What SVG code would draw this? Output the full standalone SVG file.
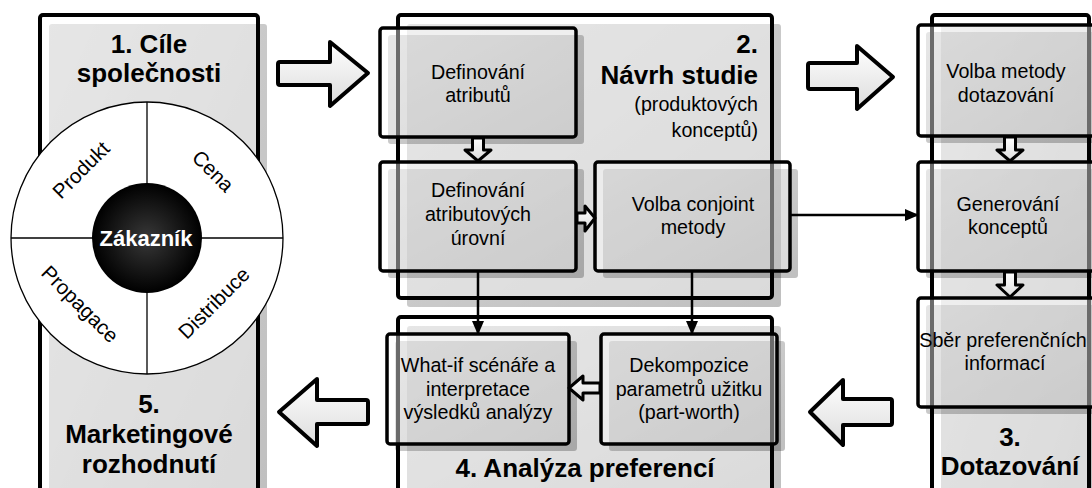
<svg xmlns="http://www.w3.org/2000/svg" width="1092" height="488" viewBox="0 0 1092 488">
  <defs>
    <linearGradient id="arrowFill" x1="0" y1="0" x2="0" y2="1">
      <stop offset="0" stop-color="#ffffff"/>
      <stop offset="1" stop-color="#dcdcdc"/>
    </linearGradient>
    <linearGradient id="shadowFill" x1="0" y1="0" x2="1" y2="1">
      <stop offset="0" stop-color="#000" stop-opacity="0.17"/>
      <stop offset="1" stop-color="#000" stop-opacity="0.25"/>
    </linearGradient>
    <radialGradient id="hub" cx="0.5" cy="0.5" r="0.5">
      <stop offset="0" stop-color="#383838"/>
      <stop offset="1" stop-color="#000000"/>
    </radialGradient>
    <marker id="tip" viewBox="0 0 14 12" refX="13" refY="6" markerWidth="14" markerHeight="12" markerUnits="userSpaceOnUse" orient="auto">
      <path d="M0,0 L14,6 L0,12 z" fill="#000"/>
    </marker>
  </defs>
  <style>
    .shadow { fill: url(#shadowFill); }
    .panel { fill: #ffffff; fill-opacity: 0.42; stroke: #000; stroke-width: 4; }
    .box { fill: #ffffff; fill-opacity: 0.42; stroke: #000; stroke-width: 3.5; }
    .big-arrow { fill: url(#arrowFill); stroke: #000; stroke-width: 4; stroke-linejoin: round; }
    .small-arrow { fill: url(#arrowFill); stroke: #000; stroke-width: 3; stroke-linejoin: round; }
    .conn { fill: none; stroke: #000; stroke-width: 2.5; }
    .t { font-family: "Liberation Sans", Arial, sans-serif; font-size: 19.7px; fill: #000; text-anchor: middle; }
    .seg { font-size: 20.5px; }
    .title { font-family: "Liberation Sans", Arial, sans-serif; font-size: 26px; font-weight: bold; fill: #000; text-anchor: middle; }
    .r { text-anchor: end; }
    .wheel-line { stroke: #000; stroke-width: 1.3; fill: none; }
  </style>

  <!-- 1 / 5: company goals and marketing decision -->
  <g id="panel-goals">
    <rect class="shadow" x="49" y="24" width="218" height="490" rx="3"/>
    <rect class="panel" x="40" y="15" width="218" height="490" rx="3"/>
    <text class="title"><tspan x="149" y="53">1. Cíle</tspan><tspan x="149" y="82">společnosti</tspan></text>
    <text class="title"><tspan x="149" y="413">5.</tspan><tspan x="149" y="443">Marketingové</tspan><tspan x="149" y="473">rozhodnutí</tspan></text>
  </g>

  <!-- 2: study design -->
  <g id="panel-design">
    <rect class="shadow" x="407" y="24" width="374" height="283" rx="3"/>
    <rect class="panel" x="398" y="15" width="374" height="283" rx="3"/>
    <text class="title r"><tspan x="758" y="53">2.</tspan><tspan x="758" y="84">Návrh studie</tspan></text>
    <text class="t r"><tspan x="758" y="111">(produktových</tspan><tspan x="758" y="137">konceptů)</tspan></text>
  </g>

  <!-- 4: preference analysis -->
  <g id="panel-analysis">
    <rect class="shadow" x="407" y="326" width="374" height="190" rx="3"/>
    <rect class="panel" x="398" y="317" width="374" height="190" rx="3"/>
    <text class="title" x="585" y="477">4. Analýza preferencí</text>
  </g>

  <!-- 3: survey -->
  <g id="panel-survey">
    <rect class="shadow" x="941" y="24" width="157" height="490" rx="3"/>
    <rect class="panel" x="932" y="15" width="157" height="490" rx="3"/>
    <text class="title"><tspan x="1010" y="446">3.</tspan><tspan x="1010" y="475">Dotazování</tspan></text>
  </g>

  <!-- marketing mix wheel around the customer -->
  <g id="wheel">
    <circle cx="147" cy="238" r="136" fill="#fff" stroke="#000" stroke-width="1.3"/>
    <line class="wheel-line" x1="147" y1="102" x2="147" y2="374"/>
    <line class="wheel-line" x1="11" y1="238" x2="283" y2="238"/>
    <text class="t seg" transform="translate(81,170) rotate(-45)" y="7">Produkt</text>
    <text class="t seg" transform="translate(213,171) rotate(45)" y="7">Cena</text>
    <text class="t seg" transform="translate(80,304) rotate(45)" y="7">Propagace</text>
    <text class="t seg" transform="translate(214,303) rotate(-45)" y="7">Distribuce</text>
    <circle cx="147" cy="238" r="55" fill="url(#hub)"/>
    <text class="title" x="146" y="246" style="fill:#fff;font-size:22px">Zákazník</text>
  </g>

  <g id="box-attributes">
    <rect class="shadow" x="388" y="35" width="196" height="109" rx="3"/>
    <rect class="box" x="380" y="28" width="196" height="109" rx="3"/>
    <text class="t"><tspan x="478" y="79">Definování</tspan><tspan x="478" y="102">atributů</tspan></text>
  </g>

  <g id="box-levels">
    <rect class="shadow" x="388" y="169" width="196" height="109" rx="3"/>
    <rect class="box" x="380" y="162" width="196" height="109" rx="3"/>
    <text class="t"><tspan x="478" y="197">Definování</tspan><tspan x="478" y="221">atributových</tspan><tspan x="478" y="245">úrovní</tspan></text>
  </g>

  <g id="box-method">
    <rect class="shadow" x="603" y="169" width="195" height="109" rx="3"/>
    <rect class="box" x="595" y="162" width="195" height="109" rx="3"/>
    <text class="t"><tspan x="693" y="211">Volba conjoint</tspan><tspan x="693" y="234">metody</tspan></text>
  </g>

  <g id="box-whatif">
    <rect class="shadow" x="395" y="341" width="182" height="110" rx="3"/>
    <rect class="box" x="387" y="334" width="182" height="110" rx="3"/>
    <text class="t"><tspan x="478" y="372">What-if scénáře a</tspan><tspan x="478" y="396">interpretace</tspan><tspan x="478" y="419">výsledků analýzy</tspan></text>
  </g>

  <g id="box-partworth">
    <rect class="shadow" x="609" y="341" width="176" height="110" rx="3"/>
    <rect class="box" x="601" y="334" width="176" height="110" rx="3"/>
    <text class="t"><tspan x="689" y="372">Dekompozice</tspan><tspan x="689" y="396">parametrů užitku</tspan><tspan x="689" y="419">(part-worth)</tspan></text>
  </g>

  <g id="box-survey-method">
    <rect class="shadow" x="926" y="32" width="186" height="111" rx="3"/>
    <rect class="box" x="918" y="25" width="186" height="111" rx="3"/>
    <text class="t"><tspan x="1006" y="78">Volba metody</tspan><tspan x="1006" y="102">dotazování</tspan></text>
  </g>

  <g id="box-concepts">
    <rect class="shadow" x="926" y="169" width="186" height="109" rx="3"/>
    <rect class="box" x="918" y="162" width="186" height="109" rx="3"/>
    <text class="t"><tspan x="1008" y="211">Generování</tspan><tspan x="1008" y="234">konceptů</tspan></text>
  </g>

  <g id="box-collection">
    <rect class="shadow" x="926" y="305" width="186" height="109" rx="3"/>
    <rect class="box" x="918" y="298" width="186" height="109" rx="3"/>
    <text class="t"><tspan x="1003" y="347">Sběr preferenčních</tspan><tspan x="1005" y="370">informací</tspan></text>
  </g>

  <!-- connectors: hollow block arrows between stages and plain arrows between steps -->
  <g id="connectors">
    <path class="big-arrow" d="M280,62 L330,62 L330,42 L368,73 L330,106 L330,85 L280,85 Q278,85 278,83 L278,64 Q278,62 280,62 z"/>
    <path class="big-arrow" d="M810,63 L857,63 L857,46 L893,77 L857,109 L857,89 L810,89 Q808,89 808,87 L808,65 Q808,63 810,63 z"/>
    <path class="big-arrow" d="M890,399 L843,399 L843,380 L810,412 L843,445 L843,425 L890,425 Q892,425 892,423 L892,401 Q892,399 890,399 z"/>
    <path class="big-arrow" d="M366,400 L317,400 L317,379 L279,412 L317,446 L317,424 L366,424 Q368,424 368,422 L368,402 Q368,400 366,400 z"/>

    <path class="small-arrow" d="M472.5,138 L483.5,138 L483.5,150 L491,150 L478,161 L465,150 L472.5,150 z"/>
    <path class="small-arrow" d="M1004.5,137 L1015.5,137 L1015.5,150 L1023,150 L1010,161 L997,150 L1004.5,150 z"/>
    <path class="small-arrow" d="M1004.5,272 L1015.5,272 L1015.5,285 L1023,285 L1010,297 L997,285 L1004.5,285 z"/>
    <path class="small-arrow" d="M577,213 L585,213 L585,206 L595,218 L585,231 L585,223 L577,223 z"/>
    <path class="small-arrow" d="M600,383 L583,383 L583,376 L569,388 L583,400 L583,393 L600,393 z"/>

    <path class="conn" d="M478,271 L478,334" marker-end="url(#tip)"/>
    <path class="conn" d="M692,271 L692,334" marker-end="url(#tip)"/>
    <path class="conn" d="M790,215 L918,215" marker-end="url(#tip)"/>
  </g>
</svg>
